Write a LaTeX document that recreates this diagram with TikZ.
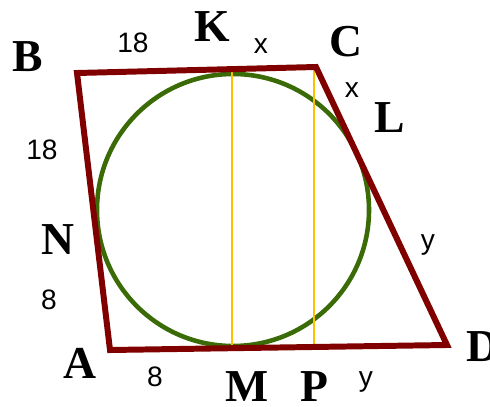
\documentclass[tikz,border=0pt]{standalone}
\usepackage{fontspec}
\setmainfont{Liberation Serif}
\newfontfamily\numfont{Liberation Sans}
\usepackage{tikz}
\usetikzlibrary{positioning, calc}

\definecolor{sidered}{HTML}{800000}
\definecolor{circgreen}{HTML}{3A6B06}
\definecolor{chordyellow}{HTML}{FFC000}

\begin{document}
\begin{tikzpicture}[
    x=0.02cm, y=-0.02cm,
    side/.style = {draw=sidered, line width=3.4pt, line join=miter},
    incircle/.style = {draw=circgreen, line width=2.6pt},
    chord/.style = {draw=chordyellow, line width=1.3pt},
    vlabel/.style = {font=\fontsize{26}{26}\selectfont\bfseries, inner sep=0pt},
    seglabel/.style = {font=\numfont\fontsize{16}{16}\selectfont, inner sep=0pt}
]
\useasboundingbox (0,0) rectangle (490,406);

% --- Vertices of the quadrilateral ---
\coordinate (B) at (77,73);
\coordinate (C) at (316,67);
\coordinate (D) at (447,345);
\coordinate (A) at (110,350);
\coordinate (O) at (233,210);

% --- Points of tangency and foot of the perpendicular ---
\coordinate (Kt) at (232,72);
\coordinate (Mt) at (232,348);
\coordinate (Ct) at (314,68);
\coordinate (Pt) at (314,346);

% --- Circle, chords and sides ---
\draw[incircle] (O) circle (136);
\draw[chord] (Kt) -- (Mt);
\draw[chord] (Ct) -- (Pt);
\draw[side] (B) -- (C) -- (D) -- (A) -- cycle;

% --- Letters ---
\node[vlabel] (labB) at (28,57) {B};
\node[vlabel] (labK) at (212,27) {K};
\node[vlabel] (labC) at (346,42) {C};
\node[vlabel] (labL) at (390,118) {L};
\node[vlabel] (labN) at (58,240) {N};
\node[vlabel] (labA) at (80,363) {A};
\node[vlabel] (labM) at (247,387) {M};
\node[vlabel] (labP) at (314,387) {P};
\node[vlabel] (labD) at (483,347) {D};

% --- Segment lengths ---
\node[seglabel] (lenBK) at (133,43) {18};
\node[seglabel] (lenBN) at (42,150) {18};
\node[seglabel] (lenKC) at (261,46) {x};
\node[seglabel] (lenCL) at (352,90) {x};
\node[seglabel] (lenLD) at (428,245) {y};
\node[seglabel] (lenNA) at (49,300) {8};
\node[seglabel] (lenAM) at (155,377) {8};
\node[seglabel] (lenPD) at (366,382) {y};

\end{tikzpicture}
\end{document}
